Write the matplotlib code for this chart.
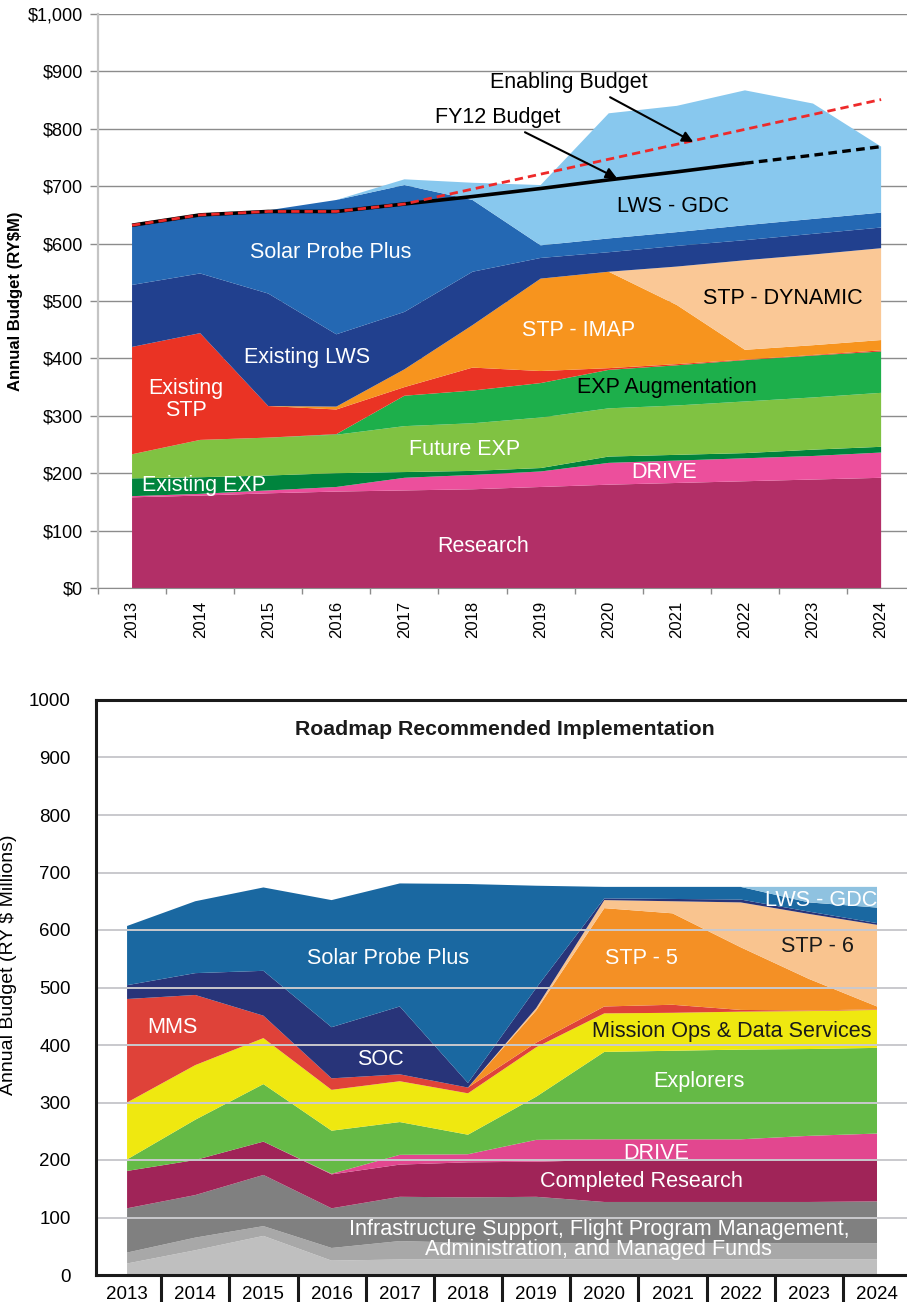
import numpy as np
import matplotlib.pyplot as plt

plt.rcParams['font.family'] = ['Liberation Sans', 'DejaVu Sans']

years = list(range(2013, 2025))

# ---- top chart: layer amounts (RY$M), bottom to top ----
research   = [158, 161, 165, 168, 170, 172, 176, 180, 183, 186, 189, 192]
drive      = [2, 3, 5, 8, 22, 25, 27, 38, 39, 40, 41, 44]
exist_exp  = [31, 29, 26, 24, 10, 7, 6, 11, 10, 9, 11, 10]
future_exp = [42, 65, 66, 67, 80, 83, 88, 84, 86, 90, 91, 94]
exp_aug    = [0, 0, 0, 1, 53, 57, 60, 67, 70, 72, 73, 72]
exist_stp  = [187, 186, 55, 43, 15, 40, 21, 3, 2, 1, 1, 2]
stp_imap   = [0, 0, 0, 5, 31, 74, 161, 168, 103, 17, 17, 18]
stp_dyn    = [0, 0, 0, 0, 0, 0, 0, 0, 67, 156, 158, 160]
exist_lws  = [108, 104, 196, 126, 100, 93, 36, 34, 36, 35, 36, 36]
spp_top    = [104, 102, 145, 234, 221, 125, 22, 24, 24, 26, 26, 26]
lws_gdc    = [0, 0, 0, 0, 10, 30, 105, 218, 220, 235, 201, 115]

fy12_budget     = [632, 650, 656, 656, 669, 682, 696, 711, 725, 740, 754, 769]
enabling_budget = [632, 650, 656, 656, 669, 695, 721, 747, 773, 799, 825, 851]

top_colors = ['#B22F67', '#EC4F9C', '#00843D', '#80C242', '#1DAF4B', '#EA3324',
              '#F7941E', '#FAC896', '#21408E', '#2468B3', '#88C8EE']

# ---- bottom chart: layer amounts (RY $ Millions), bottom to top ----
managed_funds = [20, 43, 68, 25, 27, 27, 27, 27, 27, 27, 27, 27]
admin         = [19, 22, 17, 22, 32, 29, 28, 28, 28, 28, 28, 28]
infra         = [77, 74, 89, 69, 77, 79, 81, 72, 72, 72, 72, 73]
completed     = [65, 61, 58, 59, 56, 61, 61, 73, 73, 73, 73, 72]
drive_b       = [0, 0, 0, 1, 17, 14, 38, 36, 36, 36, 42, 46]
explorers     = [20, 70, 100, 75, 57, 34, 75, 152, 154, 156, 151, 149]
mission_ops   = [99, 95, 80, 71, 71, 72, 86, 67, 66, 66, 66, 66]
mms           = [180, 122, 39, 20, 12, 10, 8, 12, 14, 3, 1, 1]
stp5          = [0, 0, 0, 0, 0, 0, 56, 171, 159, 109, 55, 5]
stp6          = [0, 0, 0, 0, 0, 0, 4, 14, 21, 78, 113, 142]
soc           = [24, 38, 78, 89, 118, 8, 35, 3, 4, 5, 4, 3]
spp_bot       = [103, 125, 145, 221, 214, 346, 178, 20, 21, 22, 16, 27]
gdc_bot       = [0, 0, 0, 0, 0, 0, 0, 0, 0, 0, 27, 36]

bot_colors = ['#BFBFBF', '#A8A8A8', '#808080', '#A02458', '#E2478F', '#65BA46',
              '#EFE810', '#DF4239', '#F49025', '#F9C48F', '#283479', '#1A68A1', '#8FC2E0']

W, H = 907, 1302
fig = plt.figure(figsize=(W / 100, H / 100), dpi=100)

# ============================================================
# top chart
# ============================================================
ax1 = fig.add_axes([98 / W, 1 - 588 / H, 1 - 98 / W, (588 - 14) / H])
ax1.stackplot(years, research, drive, exist_exp, future_exp, exp_aug, exist_stp,
              stp_imap, stp_dyn, exist_lws, spp_top, lws_gdc,
              colors=top_colors, linewidth=0, zorder=2)

ax1.plot(years[:10], fy12_budget[:10], color='black', lw=2.6, zorder=4,
         solid_capstyle='butt')
ax1.plot(years[9:], fy12_budget[9:], color='black', lw=2.4, zorder=4,
         linestyle=(0, (2.6, 1.6)))
ax1.plot(years, enabling_budget, color='#EE2A2A', lw=2.0, zorder=5,
         linestyle=(0, (3, 1.8)))

ax1.set_xlim(2012.5, 2024.38)
ax1.set_ylim(0, 1000)
ax1.set_yticks(range(0, 1001, 100))
ax1.set_yticklabels(['${:,}'.format(v) for v in range(0, 1001, 100)], fontsize=13)
ax1.set_xticks(years)
ax1.set_xticklabels([str(y) for y in years], rotation=90, fontsize=12)
ax1.set_xticks([y + 0.5 for y in range(2012, 2024)], minor=True)
ax1.tick_params(axis='x', which='major', length=0, pad=9)
ax1.tick_params(axis='x', which='minor', length=4.5, color='#8C8C8C', width=1)
ax1.tick_params(axis='y', length=5.5, color='#8C8C8C', width=1, pad=5)
ax1.grid(axis='y', color='#8C8C8C', lw=1)
ax1.set_axisbelow(True)
for s in ['top', 'right']:
    ax1.spines[s].set_visible(False)
ax1.spines['left'].set_color('#C4C4C4')
ax1.spines['left'].set_linewidth(1.6)
ax1.spines['bottom'].set_color('#8C8C8C')
ax1.set_ylabel('Annual Budget (RY$M)', fontsize=12, fontweight='bold')
ax1.yaxis.set_label_coords(-0.093, 0.499)

fs = 15.5
ax1.text(2015.91, 585, 'Solar Probe Plus', color='white', fontsize=fs, ha='center', va='center', zorder=6)
ax1.text(2015.57, 401, 'Existing LWS', color='white', fontsize=fs, ha='center', va='center', zorder=6)
ax1.text(2013.79, 329, 'Existing\nSTP', color='white', fontsize=fs, ha='center', va='center',
         linespacing=1.05, zorder=6)
ax1.text(2014.06, 178, 'Existing EXP', color='white', fontsize=fs, ha='center', va='center', zorder=6)
ax1.text(2017.88, 242, 'Future EXP', color='white', fontsize=fs, ha='center', va='center', zorder=6)
ax1.text(2018.15, 73, 'Research', color='white', fontsize=fs, ha='center', va='center', zorder=6)
ax1.text(2020.81, 202, 'DRIVE', color='white', fontsize=fs, ha='center', va='center', zorder=6)
ax1.text(2020.86, 350, 'EXP Augmentation', color='black', fontsize=fs, ha='center', va='center', zorder=6)
ax1.text(2019.55, 448, 'STP - IMAP', color='white', fontsize=fs, ha='center', va='center', zorder=6)
ax1.text(2022.56, 505, 'STP - DYNAMIC', color='black', fontsize=fs, ha='center', va='center', zorder=6)
ax1.text(2020.94, 665, 'LWS - GDC', color='black', fontsize=fs, ha='center', va='center', zorder=6)

ax1.text(2019.42, 880, 'Enabling Budget', color='black', fontsize=fs, ha='center', va='center', zorder=6)
ax1.text(2018.37, 819, 'FY12 Budget', color='black', fontsize=fs, ha='center', va='center', zorder=6)
arrow = dict(arrowstyle='-|>', color='black', lw=1.5, mutation_scale=16, shrinkA=0, shrinkB=0)
ax1.annotate('', xy=(2021.24, 777), xytext=(2020.02, 855), arrowprops=arrow, zorder=6)
ax1.annotate('', xy=(2020.12, 714), xytext=(2018.77, 794), arrowprops=arrow, zorder=6)

# ============================================================
# bottom chart
# ============================================================
ax2 = fig.add_axes([95.7 / W, 1 - 1275 / H, 1 - 95.7 / W, 575 / H])
ax2.stackplot(years, managed_funds, admin, infra, completed, drive_b, explorers,
              mission_ops, mms, stp5, stp6, soc, spp_bot, gdc_bot,
              colors=bot_colors, linewidth=0, zorder=1)
ax2.set_xlim(2012.54, 2024.44)
ax2.set_ylim(0, 1000)
for v in range(100, 1000, 100):
    ax2.axhline(v, color='#C9C9CD', lw=1.4, zorder=2)

ax2.set_yticks(range(0, 1001, 100))
ax2.set_yticklabels([str(v) for v in range(0, 1001, 100)], fontsize=13.5)
ax2.set_yticks(range(100, 1000, 100), minor=True)
ax2.tick_params(axis='y', which='major', length=0, pad=18)
ax2.tick_params(axis='y', which='minor', length=13.5, width=2.2, color='#1A1A1A')
ax2.set_xticks(years)
ax2.set_xticklabels([str(y) for y in years], fontsize=13.5)
ax2.set_xticks([y + 0.5 for y in range(2013, 2024)], minor=True)
ax2.tick_params(axis='x', which='major', length=0, pad=8)
ax2.tick_params(axis='x', which='minor', length=20, width=2.2, color='#1A1A1A')
ax2.spines['right'].set_visible(False)
for s in ['left', 'bottom', 'top']:
    ax2.spines[s].set_linewidth(2.2)
    ax2.spines[s].set_color('#1A1A1A')
ax2.set_ylabel('Annual Budget (RY $ Millions)', fontsize=14)
ax2.yaxis.set_label_coords(-0.097, 0.539)

fb = 15.6
ax2.text(2018.54, 948, 'Roadmap Recommended Implementation', color='#1A1A1A', fontsize=15.3,
         fontweight='bold', ha='center', va='center', zorder=6)
ax2.text(2016.83, 551, 'Solar Probe Plus', color='white', fontsize=fb, ha='center', va='center', zorder=6)
ax2.text(2013.66, 431, 'MMS', color='white', fontsize=fb, ha='center', va='center', zorder=6)
ax2.text(2016.71, 374, 'SOC', color='white', fontsize=fb, ha='center', va='center', zorder=6)
ax2.text(2020.54, 551, 'STP - 5', color='white', fontsize=fb, ha='center', va='center', zorder=6)
ax2.text(2023.12, 572, 'STP - 6', color='#1A1A1A', fontsize=fb, ha='center', va='center', zorder=6)
ax2.text(2023.18, 652, 'LWS - GDC', color='white', fontsize=fb, ha='center', va='center', zorder=6)
ax2.text(2021.87, 423, 'Mission Ops & Data Services', color='#1A1A1A', fontsize=fb,
         ha='center', va='center', zorder=6)
ax2.text(2021.39, 336, 'Explorers', color='white', fontsize=fb, ha='center', va='center', zorder=6)
ax2.text(2020.76, 212, 'DRIVE', color='white', fontsize=fb, ha='center', va='center', zorder=6)
ax2.text(2020.54, 162, 'Completed Research', color='white', fontsize=fb, ha='center', va='center', zorder=6)
ax2.text(2019.92, 62, 'Infrastructure Support, Flight Program Management,\nAdministration, and Managed Funds',
         color='white', fontsize=fb, ha='center', va='center', linespacing=0.92, zorder=6)

fig.savefig('out.png', dpi=100)
